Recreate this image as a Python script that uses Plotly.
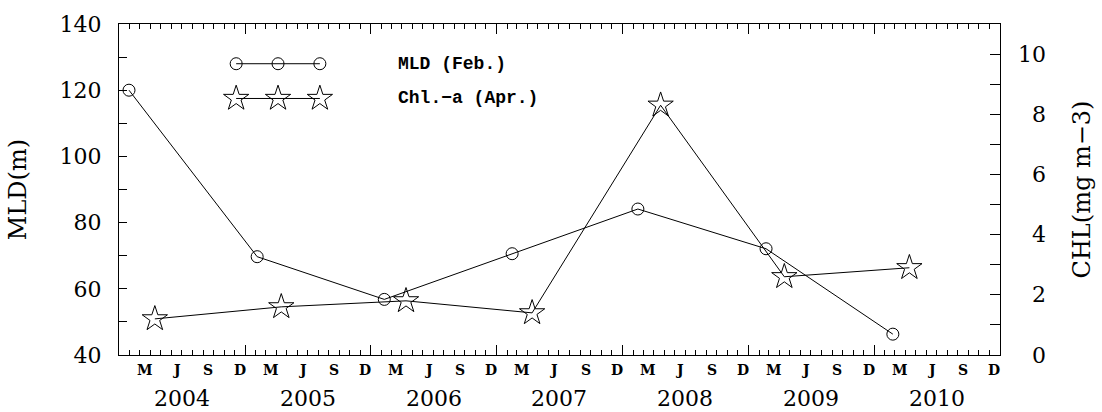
import plotly.graph_objects as go

# February mixed-layer depth (m) and April chlorophyll-a (mg m^-3)
years = [2004, 2005, 2006, 2007, 2008, 2009, 2010]
mld_dates = ["2004-01-30", "2005-02-05", "2006-02-09", "2007-02-15",
             "2008-02-15", "2009-02-21", "2010-02-24"]
mld_values = [120.0, 69.7, 56.8, 70.6, 84.1, 72.1, 46.3]
chl_dates = ["2004-04-14", "2005-04-16", "2006-04-13", "2007-04-14",
             "2008-04-21", "2009-04-15", "2010-04-13"]
chl_values = [1.2, 1.6, 1.8, 1.4, 8.3, 2.6, 2.9]

month_letters = ["M", "J", "S", "D"]
month_numbers = [3, 6, 9, 12]
mld_ticks = [40, 60, 80, 100, 120, 140]
chl_ticks = [0, 2, 4, 6, 8, 10]

SERIF = "DejaVu Serif"
MONO = "Liberation Mono"
LABEL_SIZE = 22
TITLE_SIZE = 24

fig = go.Figure()

fig.add_trace(go.Scatter(
    x=mld_dates, y=mld_values, mode="lines+markers", yaxis="y",
    line=dict(color="black", width=1),
    marker=dict(symbol="circle-open", size=12, color="black", line=dict(width=1)),
    showlegend=False))

fig.add_trace(go.Scatter(
    x=chl_dates, y=chl_values, mode="lines+markers", yaxis="y2",
    line=dict(color="black", width=1),
    marker=dict(symbol="star-open", size=19, color="black", line=dict(width=1)),
    showlegend=False))

# hand-drawn key on a helper axis spanning the plot area
key_x = [0.133, 0.1805, 0.228]
fig.add_trace(go.Scatter(
    x=key_x, y=[0.88] * 3, xaxis="x3", yaxis="y3", mode="lines+markers",
    line=dict(color="black", width=1),
    marker=dict(symbol="circle-open", size=12, color="black", line=dict(width=1)),
    showlegend=False, hoverinfo="skip"))
fig.add_trace(go.Scatter(
    x=key_x, y=[0.775] * 3, xaxis="x3", yaxis="y3", mode="lines+markers",
    line=dict(color="black", width=1),
    marker=dict(symbol="star-open", size=19, color="black", line=dict(width=1)),
    showlegend=False, hoverinfo="skip"))

annotations = [
    dict(x=0.314, y=0.88, xref="paper", yref="paper", text="<b>MLD (Feb.)</b>",
         showarrow=False, xanchor="left", yanchor="middle",
         font=dict(family=MONO, size=18, color="black")),
    dict(x=0.314, y=0.775, xref="paper", yref="paper", text="<b>Chl.\u2212a (Apr.)</b>",
         showarrow=False, xanchor="left", yanchor="middle",
         font=dict(family=MONO, size=18, color="black")),
]

# month initials and year labels under the time axis
for yr in years:
    for letter, m in zip(month_letters, month_numbers):
        annotations.append(dict(
            x=f"{yr}-{m:02d}-16", y=-0.045, xref="x", yref="paper", text=f"<b>{letter}</b>",
            showarrow=False, xanchor="center", yanchor="middle",
            font=dict(family=SERIF, size=14, color="black")))
    annotations.append(dict(
        x=f"{yr}-07-02", y=-0.13, xref="x", yref="paper", text=str(yr),
        showarrow=False, xanchor="center", yanchor="middle",
        font=dict(family=SERIF, size=LABEL_SIZE, color="black")))

# right-hand tick labels, right-aligned like the left ones
for v in chl_ticks:
    annotations.append(dict(
        x=1.0545, y=v, xref="paper", yref="y2", text=str(v),
        showarrow=False, xanchor="right", yanchor="middle",
        font=dict(family=SERIF, size=LABEL_SIZE, color="black")))

# axis titles
annotations.append(dict(
    x=-0.115, y=0.5, xref="paper", yref="paper", text="MLD(m)", textangle=-90,
    showarrow=False, xanchor="center", yanchor="middle",
    font=dict(family=SERIF, size=TITLE_SIZE, color="black")))
annotations.append(dict(
    x=1.093, y=0.5, xref="paper", yref="paper", text="CHL(mg m\u22123)", textangle=-90,
    showarrow=False, xanchor="center", yanchor="middle",
    font=dict(family=SERIF, size=TITLE_SIZE, color="black")))

fig.update_layout(
    width=1102, height=412,
    margin=dict(l=119, r=102, t=22, b=57),
    paper_bgcolor="white", plot_bgcolor="white",
    annotations=annotations,
    xaxis=dict(
        type="date", range=["2004-01-01", "2011-01-01"],
        tickvals=[f"{y}-01-01" for y in years] + ["2011-01-01"],
        showticklabels=False, ticks="inside", ticklen=10, tickwidth=1, tickcolor="black",
        minor=dict(dtick="M1", tick0="2004-01-01", ticks="inside", ticklen=5,
                   tickwidth=1, tickcolor="black"),
        showline=True, linecolor="black", linewidth=1, mirror="ticks",
        showgrid=False, zeroline=False),
    yaxis=dict(
        range=[40, 140], tickvals=mld_ticks, ticks="inside", ticklen=8,
        tickwidth=1, tickcolor="black",
        minor=dict(dtick=10, tick0=40, ticks="inside", ticklen=8, tickwidth=1,
                   tickcolor="black"),
        tickfont=dict(family=SERIF, size=LABEL_SIZE, color="black"),
        ticklabelstandoff=12,
        showline=True, linecolor="black", linewidth=1,
        showgrid=False, zeroline=False),
    yaxis2=dict(
        range=[0, 11], overlaying="y", side="right", tickvals=chl_ticks,
        showticklabels=False,
        ticks="inside", ticklen=10, tickwidth=1, tickcolor="black",
        minor=dict(dtick=1, tick0=0, ticks="inside", ticklen=10, tickwidth=1,
                   tickcolor="black"),
        showline=True, linecolor="black", linewidth=1,
        showgrid=False, zeroline=False),
    xaxis3=dict(range=[0, 1], overlaying="x", visible=False),
    yaxis3=dict(range=[0, 1], overlaying="y", visible=False),
)

fig.write_html("out.html")
